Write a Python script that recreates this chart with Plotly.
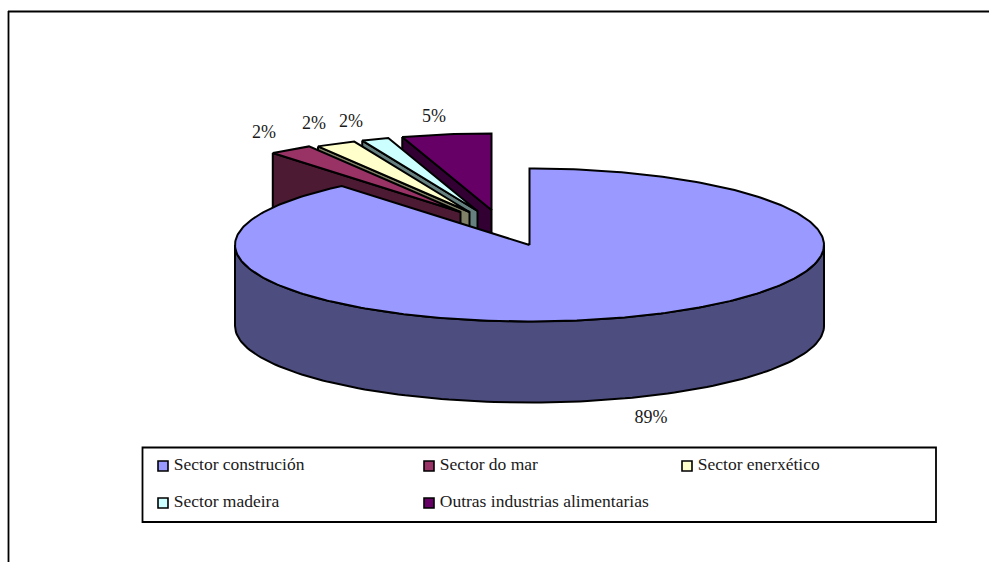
import numpy as np
import plotly.graph_objects as go

categories = ["Sector construción", "Sector do mar", "Sector enerxético",
              "Sector madeira", "Outras industrias alimentarias"]
shares = [89.0, 2.4, 2.2, 1.5, 4.9]
top_colors = ["#9999FF", "#993366", "#FFFFCC", "#CCFFFF", "#660066"]
wall_colors = ["#4D4D80", "#4D1A33", "#808066", "#668080", "#330033"]
explode_x = [0, -69, -60, -52, -38]
explode_y = [0, -33, -33, -34, -35]
label_pos = [(651, 418), (264, 133), (314, 124), (351, 122), (434, 117)]
legend_pos = [(163, 466), (429, 466), (687, 466), (163, 503), (429, 503)]

CX, CY, RX, RY, DEPTH = 529.5, 245.0, 294.5, 76.5, 81
FONT = "Liberation Serif"
INK = "#1a1a1a"

values = np.array(shares)
edges = np.concatenate([[0.0], np.cumsum(values) / values.sum() * 2 * np.pi])


def rim(t, ox, oy, dy=0):
    return CX + ox + RX * np.sin(t), CY + oy + dy - RY * np.cos(t)


fig = go.Figure()


def poly(xs, ys, color, width=2):
    fig.add_trace(go.Scatter(x=np.asarray(xs), y=np.asarray(ys), mode="lines", fill="toself",
                             fillcolor=color, line=dict(color="#000000", width=width),
                             hoverinfo="skip", showlegend=False))


# back to front: last category first, the big slice on top
for i in range(len(shares) - 1, -1, -1):
    t = np.linspace(edges[i], edges[i + 1], max(8, int((edges[i + 1] - edges[i]) * 60)))
    ox, oy = explode_x[i], explode_y[i]
    ax, ay = CX + ox, CY + oy
    if i == 0:
        tw = np.linspace(np.pi / 2, 3 * np.pi / 2, 120)
        x1, y1 = rim(tw, ox, oy)
        x2, y2 = rim(tw[::-1], ox, oy, DEPTH)
        poly(np.r_[x1, x2, x1[0]], np.r_[y1, y2, y1[0]], wall_colors[i])
    else:
        sx, sy = rim(t[0], ox, oy)
        poly([sx, ax, ax, sx, sx], [sy, ay, ay + DEPTH, sy + DEPTH, sy], wall_colors[i])
    x, y = rim(t, ox, oy)
    poly(np.r_[ax, x, ax], np.r_[ay, y, ay], top_colors[i])

# percentage labels
fig.add_trace(go.Scatter(
    x=[p[0] for p in label_pos], y=[p[1] for p in label_pos], mode="text",
    text=[f"{v:.0f}%" for v in shares], textposition="middle center",
    textfont=dict(family=FONT, size=18, color=INK), hoverinfo="skip", showlegend=False))

# legend
for name, color, (lx, ly) in zip(categories, top_colors, legend_pos):
    fig.add_trace(go.Scatter(
        x=[lx], y=[ly], mode="markers+text", text=["\u2009" + name], textposition="middle right",
        marker=dict(symbol="square", size=10, color=color, line=dict(color="#000000", width=1.6)),
        textfont=dict(family=FONT, size=17.5, color=INK), hoverinfo="skip", showlegend=False))

fig.update_layout(
    width=989, height=562, margin=dict(l=0, r=0, t=0, b=0),
    paper_bgcolor="#FFFFFF", plot_bgcolor="#FFFFFF", showlegend=False,
    xaxis=dict(range=[0, 989], visible=False, fixedrange=True),
    yaxis=dict(range=[562, 0], visible=False, fixedrange=True),
    shapes=[
        dict(type="line", x0=8, y0=11.5, x1=989, y1=11.5, line=dict(color="#000000", width=1.8), layer="below"),
        dict(type="line", x0=8.5, y0=11, x1=8.5, y1=562, line=dict(color="#000000", width=1.8), layer="below"),
        dict(type="rect", x0=142.5, y0=447.5, x1=936, y1=522, line=dict(color="#000000", width=1.8),
             fillcolor="#FFFFFF", layer="below"),
    ],
)
fig.write_html("out.html", config=dict(displayModeBar=False),
               post_script="document.body.style.margin='0';document.body.style.overflow='hidden';")
